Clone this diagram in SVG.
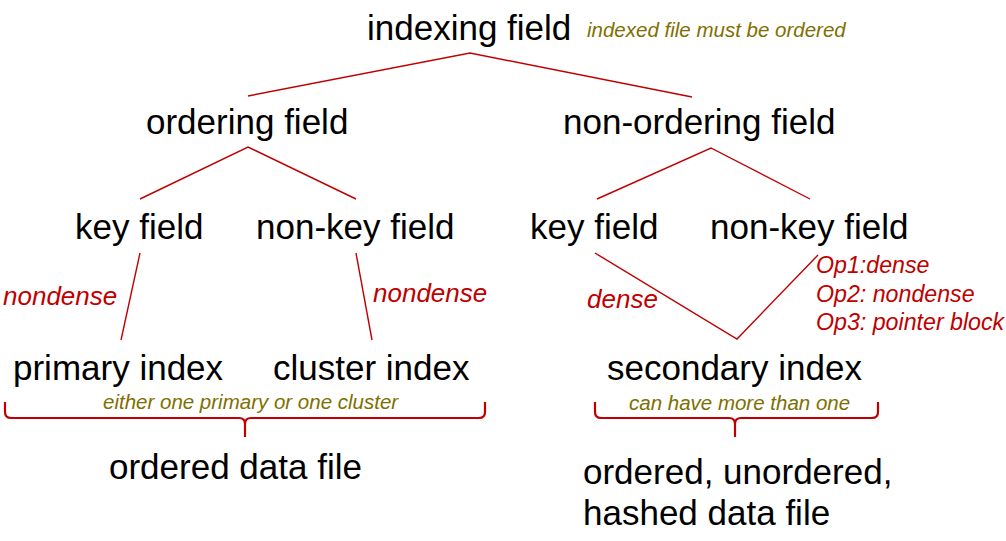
<svg xmlns="http://www.w3.org/2000/svg" width="1006" height="541" viewBox="0 0 1006 541">
<style>
.n{font-family:"Liberation Sans",Arial,sans-serif;font-size:35px;fill:#000}
.r{font-family:"Liberation Sans",Arial,sans-serif;font-style:italic;font-size:26px;fill:#C00000}
.op{font-family:"Liberation Sans",Arial,sans-serif;font-style:italic;font-size:23.2px;fill:#C00000}
.o{font-family:"Liberation Sans",Arial,sans-serif;font-style:italic;font-size:20.5px;fill:#7F6F00}
.c{fill:none;stroke:#C00000;stroke-width:1.4}
.b{fill:none;stroke:#C00000;stroke-width:2.2}
</style>
<rect width="1006" height="541" fill="#fff"/>
<g id="connectors">
<polyline class="c" points="248,96 470,53 692,97"/>
<polyline class="c" points="140,199 248,147 356,199"/>
<polyline class="c" points="597,199 711,148 810,199"/>
<line class="c" x1="140" y1="253" x2="121" y2="340"/>
<line class="c" x1="356" y1="253" x2="372" y2="340"/>
<polyline class="c" points="595,253 737,339 818,255"/>
<path class="b" d="M5,402 V412 Q5,418 11,418 H239 Q245,418 245,424 V437 M245,424 Q245,418 251,418 H479 Q485,418 485,412 V402"/>
<path class="b" d="M595,402 V412 Q595,418 601,418 H729 Q735,418 735,424 V437 M735,424 Q735,418 741,418 H872 Q878,418 878,412 V402"/>
</g>
<g id="indexing-field">
<text class="n" x="367" y="40">indexing field</text>
<text class="o" x="587" y="37">indexed file must be ordered</text>
</g>
<g id="ordering-field"><text class="n" x="146" y="134">ordering field</text></g>
<g id="non-ordering-field"><text class="n" x="563" y="134">non-ordering field</text></g>
<g id="key-field-1"><text class="n" x="75" y="239">key field</text></g>
<g id="non-key-field-1"><text class="n" x="256" y="239">non-key field</text></g>
<g id="key-field-2"><text class="n" x="530" y="239">key field</text></g>
<g id="non-key-field-2"><text class="n" x="710" y="239">non-key field</text></g>
<g id="label-nondense-1"><text class="r" x="3" y="305">nondense</text></g>
<g id="label-nondense-2"><text class="r" x="373" y="302">nondense</text></g>
<g id="label-dense"><text class="r" x="587" y="308">dense</text></g>
<g id="label-options">
<text class="op" x="816" y="273">Op1:dense</text>
<text class="op" x="816" y="302">Op2: nondense</text>
<text class="op" x="816" y="330">Op3: pointer block</text>
</g>
<g id="primary-index"><text class="n" x="13" y="380">primary index</text></g>
<g id="cluster-index"><text class="n" x="273" y="380">cluster index</text></g>
<g id="secondary-index"><text class="n" x="607" y="380">secondary index</text></g>
<g id="brace-note-1"><text class="o" x="103" y="409">either one primary or one cluster</text></g>
<g id="brace-note-2"><text class="o" x="629" y="410">can have more than one</text></g>
<g id="ordered-data-file"><text class="n" x="109" y="479">ordered data file</text></g>
<g id="any-data-file">
<text class="n" x="583" y="484">ordered, unordered,</text>
<text class="n" x="583" y="525">hashed data file</text>
</g>
</svg>
